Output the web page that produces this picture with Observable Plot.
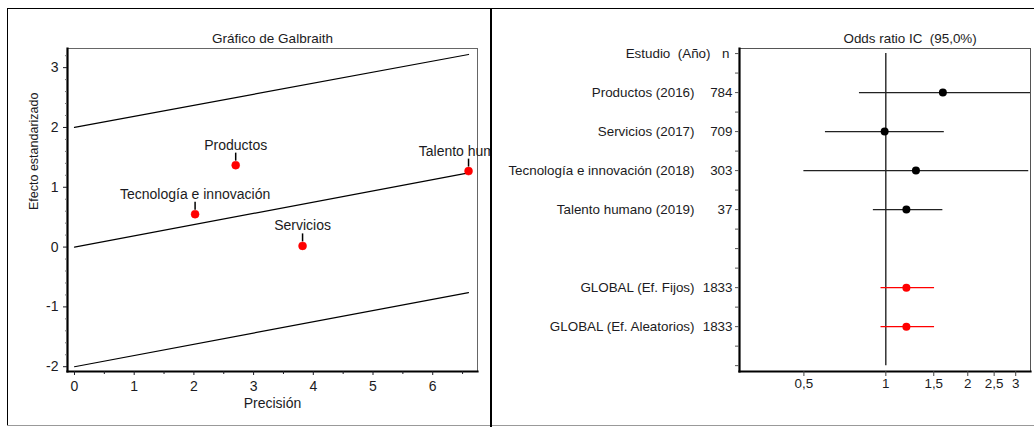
<!DOCTYPE html>
<html><head><meta charset="utf-8">
<script src="https://cdn.jsdelivr.net/npm/d3@7"></script>
<script src="https://cdn.jsdelivr.net/npm/@observablehq/plot@0.6"></script>
<style>
body{margin:0;background:#fff;}
#wrap{position:relative;width:1034px;height:427px;overflow:hidden;background:#fff;font-family:"Liberation Sans",Arial,sans-serif;}
.panel{position:absolute;top:0;height:427px;overflow:hidden;}
.panel svg{max-width:none;}
#left{left:0;width:490px;}
#right{left:492px;width:542px;}
.ln{position:absolute;}
</style></head><body>
<div id="wrap">
 <div id="left" class="panel"></div>
 <div id="right" class="panel"></div>
 <div class="ln" style="left:7px;top:8px;width:1027px;height:1px;background:#000"></div>
 <div class="ln" style="left:7px;top:8px;width:1px;height:418px;background:#000"></div>
 <div class="ln" style="left:7px;top:425px;width:1027px;height:1px;background:#999"></div>
 <div class="ln" style="left:490px;top:8px;width:2px;height:419px;background:#000"></div>
</div>
<script>
// ---------- Galbraith data ----------
const galbraithTitle = "Gráfico de Galbraith";
const galbraithXLabel = "Precisión";
const galbraithYLabel = "Efecto estandarizado";
const galbraithStudies = ["Productos", "Tecnología e innovación", "Servicios", "Talento humano"];
const precision = [2.70, 2.02, 3.82, 6.60];
const stdEffect = [1.37, 0.55, 0.02, 1.27];
const bandX = [0, 6.6];
const bandStartY = [2, 0, -2];
const bandEndY = [3.22, 1.24, -0.76];
const galbraithXTicks = [0, 1, 2, 3, 4, 5, 6];
const galbraithXMinor = [0.5, 1.5, 2.5, 3.5, 4.5, 5.5, 6.5];
const galbraithYTicks = [-2, -1, 0, 1, 2, 3];
const galbraithYMinor = [-1.8,-1.6,-1.4,-1.2,-0.8,-0.6,-0.4,-0.2,0.2,0.4,0.6,0.8,1.2,1.4,1.6,1.8,2.2,2.4,2.6,2.8,3.2];

// ---------- Forest data ----------
const forestTitle = "Odds ratio IC  (95,0%)";
const forestHeader = "Estudio  (Año)";
const forestHeaderN = "n";
const forestStudies = ["Productos (2016)", "Servicios (2017)", "Tecnología e innovación (2018)", "Talento humano (2019)", "GLOBAL (Ef. Fijos)", "GLOBAL (Ef. Aleatorios)"];
const forestN = [784, 709, 303, 37, 1833, 1833];
const forestRow = [1, 2, 3, 4, 6, 7];
const oddsRatio = [1.62, 0.99, 1.29, 1.19, 1.19, 1.19];
const ciLow = [0.80, 0.60, 0.50, 0.90, 0.96, 0.96];
const ciHigh = [3.40, 1.64, 3.35, 1.62, 1.51, 1.51];
const isGlobal = [false, false, false, false, true, true];
const forestXTicks = [0.5, 1, 1.5, 2, 2.5, 3];
const forestXTickLabels = ["0,5", "1", "1,5", "2", "2,5", "3"];
const forestRowTicks = [0,0.5,1,1.5,2,2.5,3,3.5,4,4.5,5,5.5,6,6.5,7,7.5,8];

const FONT = "'Liberation Sans', Arial, sans-serif";
const INK = "#1b1b22";

// ---------- Galbraith plot ----------
const gData = galbraithStudies.map((s, i) => ({name: s, x: precision[i], y: stdEffect[i]}));
const bandData = bandStartY.flatMap((y0, i) => [
  {k: i, x: bandX[0], y: y0},
  {k: i, x: bandX[1], y: bandEndY[i]}
]);

const left = Plot.plot({
  width: 490, height: 427,
  marginLeft: 67, marginRight: 13, marginTop: 48, marginBottom: 56,
  style: {fontFamily: FONT, fontSize: "14px", color: INK, background: "transparent"},
  x: {domain: [-0.117, 6.75]},
  y: {domain: [-2.08, 3.32]},
  marks: [
    Plot.frame({stroke: "#666", strokeWidth: 1}),
    Plot.frame({anchor: "left", stroke: "#000", strokeWidth: 2.2}),
    Plot.frame({anchor: "bottom", stroke: "#000", strokeWidth: 2.2}),
    Plot.axisX(galbraithXTicks, {tickSize: 4, tickPadding: 6, tickFormat: d => String(d), label: null, fontSize: 14}),
    Plot.axisX(galbraithXMinor, {tickSize: 3, tickFormat: () => "", label: null}),
    Plot.axisY(galbraithYTicks, {tickSize: 4, tickPadding: 5, tickFormat: d => String(d), label: null, fontSize: 14}),
    Plot.axisY(galbraithYMinor, {tickSize: 2, tickFormat: () => "", label: null, stroke: "#777"}),
    Plot.line(bandData, {x: "x", y: "y", z: "k", stroke: "#000", strokeWidth: 1.2}),
    Plot.ruleX(gData, {x: "x", y1: "y", y2: "y", insetTop: -12, insetBottom: 4, stroke: "#000", strokeWidth: 1.5}),
    Plot.dot(gData, {x: "x", y: "y", r: 4, fill: "#f00", stroke: "#f00", strokeWidth: 0.5}),
    Plot.text(gData, {x: "x", y: "y", text: "name", dy: -20, fontSize: 14, fill: INK}),
    Plot.text([galbraithTitle], {frameAnchor: "top", dy: -15, fontSize: 13.5, fill: INK}),
    Plot.text([galbraithXLabel], {frameAnchor: "bottom", dy: 36, fontSize: 14, fill: INK}),
    Plot.text([galbraithYLabel], {frameAnchor: "left", dx: -34, rotate: -90, fontSize: 12.5, fill: INK})
  ]
});
document.getElementById("left").appendChild(left);

// ---------- Forest plot ----------
const fData = forestStudies.map((s, i) => ({
  study: s, n: String(forestN[i]), row: forestRow[i],
  or: oddsRatio[i], lo: ciLow[i], hi: ciHigh[i], global: isGlobal[i]
}));
const fStudy = fData.filter(d => !d.global);
const fGlobal = fData.filter(d => d.global);
const xTickData = forestXTicks.map((v, i) => ({v, label: forestXTickLabels[i]}));
const yBottom = 8.15;

const right = Plot.plot({
  width: 542, height: 427,
  marginLeft: 247, marginRight: 4, marginTop: 48, marginBottom: 56,
  style: {fontFamily: FONT, fontSize: "13.4px", color: INK, background: "transparent"},
  x: {type: "log", domain: [0.29, 3.4], axis: null},
  y: {domain: [yBottom, -0.13], axis: null},
  marks: [
    Plot.frame({stroke: "#555", strokeWidth: 1}),
    Plot.frame({anchor: "left", stroke: "#000", strokeWidth: 2.2}),
    Plot.frame({anchor: "bottom", stroke: "#000", strokeWidth: 2.2}),
    Plot.ruleX(xTickData, {x: "v", y1: yBottom, y2: yBottom, insetTop: 0, insetBottom: -5, stroke: "#444"}),
    Plot.text(xTickData, {x: "v", text: "label", frameAnchor: "bottom", dy: 16, fill: INK}),
    Plot.axisY(forestRowTicks, {tickSize: 4, tickFormat: () => "", label: null, stroke: "#555"}),
    Plot.ruleX([1], {y1: 0, y2: 8, stroke: "#000", strokeWidth: 1.2}),
    Plot.ruleY(fStudy, {y: "row", x1: "lo", x2: "hi", stroke: "#222", strokeWidth: 1.2, clip: true}),
    Plot.ruleY(fGlobal, {y: "row", x1: "lo", x2: "hi", stroke: "#f00", strokeWidth: 1.3}),
    Plot.dot(fStudy, {x: "or", y: "row", r: 4, fill: "#000"}),
    Plot.dot(fGlobal, {x: "or", y: "row", r: 4, fill: "#f00"}),
    Plot.text(fData, {y: "row", text: "study", frameAnchor: "left", dx: -45, textAnchor: "end", fill: INK}),
    Plot.text(fData, {y: "row", text: "n", frameAnchor: "left", dx: -7, textAnchor: "end", fill: INK}),
    Plot.text([forestHeader], {y: [0], text: d => d, frameAnchor: "left", dx: -29, textAnchor: "end", fill: INK}),
    Plot.text([forestHeaderN], {y: [0], text: d => d, frameAnchor: "left", dx: -10, textAnchor: "end", fill: INK}),
    Plot.text([forestTitle], {frameAnchor: "top-left", dx: 104, dy: -15, fill: INK})
  ]
});
document.getElementById("right").appendChild(right);
</script>
</body></html>
